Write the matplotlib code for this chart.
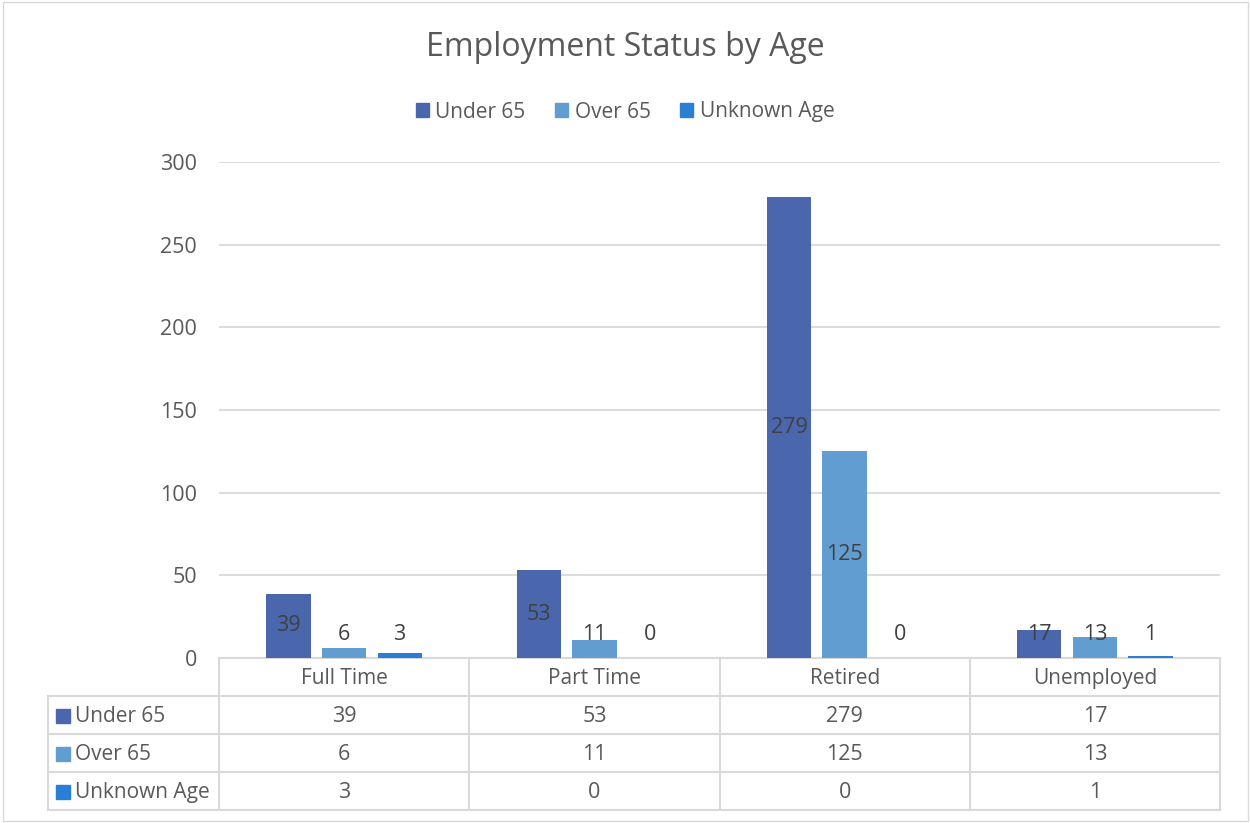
import numpy as np
import matplotlib.pyplot as plt
from matplotlib.patches import Rectangle
from matplotlib.lines import Line2D
import matplotlib.transforms as mtransforms

plt.rcParams['font.family'] = ['Open Sans', 'DejaVu Sans']

categories = ['Full Time', 'Part Time', 'Retired', 'Unemployed']
series_names = ['Under 65', 'Over 65', 'Unknown Age']
under65 = [39, 53, 279, 17]
over65 = [6, 11, 125, 13]
unknown = [3, 0, 0, 1]
series = [under65, over65, unknown]
colors = ['#4A66AC', '#629DD1', '#297FD5']
txt = '#595959'
grid = '#D9D9D9'
fs = 15

fig = plt.figure(figsize=(12.5, 8.23), dpi=100)
fig.add_artist(Rectangle((0.002, 0.003), 0.996, 0.995, transform=fig.transFigure,
                         fill=False, edgecolor=grid, lw=1))
ax = fig.add_axes([219 / 1250, 1 - 658 / 823, (1220 - 219) / 1250, (658 - 162) / 823])

x = np.arange(len(categories))
w = 0.177
step = 0.222
for i, (vals, c) in enumerate(zip(series, colors)):
    pos = x + (i - 1) * step
    ax.bar(pos, vals, width=w, color=c, zorder=3)
    for p, v in zip(pos, vals):
        ax.text(p, max(v / 2, 14), str(v), ha='center', va='center',
                fontsize=fs + 0.5, color='#404040', zorder=4)

ax.set_xlim(-0.5, len(categories) - 0.5)
ax.set_ylim(0, 300)
ax.set_yticks(np.arange(0, 301, 50))
ax.yaxis.grid(True, color=grid, lw=1.3, zorder=0)
ax.set_xticks([])
ax.tick_params(axis='y', length=0, labelsize=fs + 0.5, labelcolor=txt, pad=16)
for s in ax.spines.values():
    s.set_visible(False)

# data table under the axis
trans = mtransforms.blended_transform_factory(ax.transData, ax.transAxes)
row_h = 38 / (658 - 162)
n_rows = len(series) + 1
left = -0.5 - 171 / 250
right = len(categories) - 0.5
bottom = -n_rows * row_h
lk = dict(color=grid, lw=1.5, transform=trans, clip_on=False)
ax.add_line(Line2D([-0.5, right], [0, 0], **lk))
for r in range(1, n_rows + 1):
    ax.add_line(Line2D([left, right], [-r * row_h, -r * row_h], **lk))
ax.add_line(Line2D([left, left], [-row_h, bottom], **lk))
for b in np.arange(len(categories) + 1) - 0.5:
    ax.add_line(Line2D([b, b], [0, bottom], **lk))
for ci, cat in enumerate(categories):
    ax.text(ci, -0.53 * row_h, cat, ha='center', va='center', fontsize=fs,
            color=txt, transform=trans)
for r, (name, vals, c) in enumerate(zip(series_names, series, colors)):
    yc = -(r + 1.53) * row_h
    ax.add_patch(Rectangle((left + 0.033, yc - 0.013), 0.056, 0.028, color=c,
                           transform=trans, clip_on=False))
    ax.text(left + 0.108, yc, name, ha='left', va='center', fontsize=fs,
            color=txt, transform=trans)
    for ci, v in enumerate(vals):
        ax.text(ci, yc, str(v), ha='center', va='center', fontsize=fs + 0.5,
                color=txt, transform=trans)

fig.text(0.5, 1 - 47 / 823, 'Employment Status by Age', ha='center', va='center',
         fontsize=23, color=txt)
handles = [Rectangle((0, 0), 1, 1, color=c) for c in colors]
fig.legend(handles, series_names, loc='center', bbox_to_anchor=(0.5, 1 - 112 / 823),
           ncol=3, frameon=False, fontsize=fs, labelcolor=txt, handlelength=0.65,
           handleheight=0.65, handletextpad=0.3, columnspacing=1.4)

fig.savefig('out.png', dpi=100)
